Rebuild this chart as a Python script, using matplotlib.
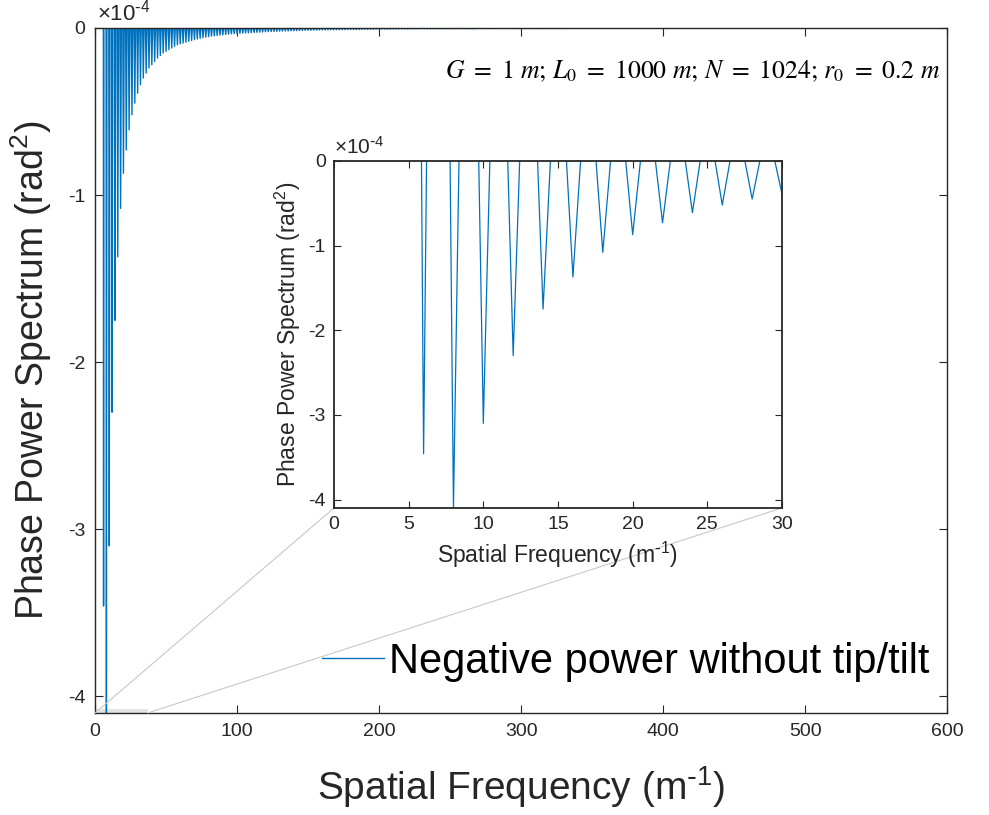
import numpy as np
import matplotlib
matplotlib.use("Agg")
import matplotlib.pyplot as plt
from matplotlib.patches import Rectangle, ConnectionPatch

plt.rcParams['font.family'] = ['Liberation Sans', 'DejaVu Sans']
plt.rcParams['axes.unicode_minus'] = False
plt.rcParams['mathtext.default'] = 'regular'

# ---------------- data (phase power spectrum, units of 1e-4 rad^2) ----------------
freq_max = 512
# values at even spatial frequencies f = 0, 2, 4, ..., 512
psd_even = ([0.0, 28.0, 24.0] +
            [-3.46, -4.10, -3.10, -2.30, -1.75, -1.37, -1.08, -0.87, -0.73, -0.61] +
            [-0.52, -0.45, -0.39, -0.34, -0.30, -0.27, -0.24, -0.22, -0.20, -0.18] +
            [-0.165, -0.150, -0.140, -0.130, -0.120, -0.110, -0.100, -0.095, -0.090, -0.085] +
            [-0.080, -0.075, -0.070, -0.066, -0.062, -0.058, -0.055, -0.052, -0.049, -0.047] +
            [-0.045, -0.043, -0.041, -0.039, -0.037, -0.035, -0.034, -0.033, -0.032, -0.031] +
            [-0.030, -0.029, -0.028, -0.027, -0.026, -0.025, -0.024, -0.023, -0.022, -0.021] +
            [-0.021, -0.020, -0.019, -0.019, -0.018, -0.018, -0.017, -0.016, -0.016, -0.015] +
            [-0.015, -0.014, -0.014, -0.014, -0.013, -0.013, -0.012, -0.012, -0.012, -0.011] +
            [-0.011, -0.011, -0.010, -0.010, -0.010, -0.010, -0.009, -0.009, -0.009, -0.009] +
            [-0.009, -0.008, -0.008, -0.008, -0.008, -0.008, -0.007, -0.007, -0.007, -0.007] +
            [-0.007, -0.007, -0.007, -0.006, -0.006, -0.006, -0.006, -0.006, -0.006, -0.006] +
            [-0.006, -0.005, -0.005, -0.005, -0.005, -0.005, -0.005, -0.005, -0.005, -0.005] +
            [-0.005] * 10 +
            [-0.005, -0.005] + [-0.004] * 8 +
            [-0.004] * 10 +
            [-0.004] * 10 +
            [-0.004, -0.004] + [-0.003] * 8 +
            [-0.003] * 10 +
            [-0.003] * 10 +
            [-0.003] * 10 +
            [-0.002] * 10 +
            [-0.002] * 10 +
            [-0.002] * 10 +
            [-0.002] * 10 +
            [-0.002] * 10 +
            [-0.002, -0.002, -0.002, -0.001])
# values at odd spatial frequencies f = 1, 3, 5, ..., 511
psd_odd = ([30.0, 26.0, 21.0] +
           [14.0, 7.0, 4.0, 3.0] +
           [1.8, 1.3, 1.0, 0.8, 0.67, 0.56, 0.48, 0.42] +
           [0.36, 0.32, 0.285, 0.255, 0.23, 0.21, 0.19, 0.172, 0.157, 0.145] +
           [0.135, 0.125, 0.115, 0.105, 0.097, 0.092, 0.087, 0.082, 0.077, 0.072] +
           [0.068, 0.064, 0.060, 0.056, 0.053, 0.050, 0.048, 0.046, 0.044, 0.042] +
           [0.040, 0.038, 0.036, 0.034, 0.033, 0.032, 0.031, 0.030, 0.029, 0.028] +
           [0.027, 0.026, 0.025, 0.024, 0.023, 0.022, 0.021, 0.021, 0.020, 0.019] +
           [0.019, 0.018, 0.018, 0.017, 0.016, 0.016, 0.015, 0.015, 0.014, 0.014] +
           [0.014, 0.013, 0.013, 0.012, 0.012, 0.012, 0.011, 0.011, 0.011, 0.010] +
           [0.010, 0.010, 0.010, 0.009, 0.009, 0.009, 0.009, 0.009, 0.008, 0.008] +
           [0.008, 0.008, 0.008, 0.007, 0.007, 0.007, 0.007, 0.007, 0.007, 0.007] +
           [0.006] * 10 +
           [0.005] * 10 +
           [0.005] * 10 +
           [0.004] * 10 +
           [0.004] * 10 +
           [0.004] * 10 +
           [0.003] * 10 +
           [0.003] * 10 +
           [0.003] * 10 +
           [0.003, 0.003] + [0.002] * 8 +
           [0.002] * 10 +
           [0.002] * 10 +
           [0.002] * 10 +
           [0.002] * 10 +
           [0.002] * 10 +
           [0.001])

freq = np.arange(0, freq_max + 1)
psd = np.empty(freq.size)
psd[0::2] = psd_even
psd[1::2] = psd_odd

series_label = 'Negative power without tip/tilt'
param_text = (r'$\mathit{G}\ =\ 1\ \mathit{m}$; $\mathit{L}_0\ =\ 1000\ \mathit{m}$; '
              r'$\mathit{N}\ =\ 1024$; $\mathit{r}_0\ =\ 0.2\ \mathit{m}$')
main_xticks = [0, 100, 200, 300, 400, 500, 600]
main_yticks = [0, -1, -2, -3, -4]
inset_xticks = [0, 5, 10, 15, 20, 25, 30]
inset_yticks = [0, -1, -2, -3, -4]
zoom_xmax = 37

# ---------------- styling ----------------
line_color = '#0072BD'
axis_color = '#262626'
exp_text = r'$\times10^{\text{-}4}$'

fig = plt.figure(figsize=(9.89, 8.15), dpi=100)
ax = fig.add_axes([0.0961, 0.1252, 0.8615, 0.8405])
ax.set_zorder(0)

ax.plot(freq, psd, color=line_color, lw=1.0, label=series_label, zorder=2)
ax.set_xlim(0, 600)
ax.set_ylim(-4.1, 0)
ax.set_xticks(main_xticks)
ax.set_yticks(main_yticks)
ax.set_yticklabels([str(v) for v in main_yticks])
ax.tick_params(direction='in', length=6, width=0.8, colors=axis_color,
               labelsize=14, top=True, right=True, pad=7)
for s in ax.spines.values():
    s.set_color(axis_color)
    s.set_linewidth(1.0)
ax.set_xlabel(r'Spatial Frequency (m$^{\text{-}1}$)', fontsize=28, color=axis_color, labelpad=18)
ax.set_ylabel(r'Phase Power Spectrum (rad$^{2}$)', fontsize=27, color=axis_color, labelpad=10)
ax.text(0.002, 1.003, exp_text, transform=ax.transAxes, fontsize=16,
        color=axis_color, ha='left', va='bottom')
ax.text(0.992, 0.936, param_text, transform=ax.transAxes, fontsize=18.5,
        family='STIXGeneral', math_fontfamily='stix', ha='right', va='center', color='black')

leg = ax.legend(loc='center left', bbox_to_anchor=(0.266, 0.0745), frameon=False,
                fontsize=30, handlelength=1.5, handletextpad=0.12,
                borderpad=0, borderaxespad=0)

# zoom marker box on the main axes
ax.add_patch(Rectangle((0, -4.1), zoom_xmax, 0.025, facecolor='#e3e3e3',
                       edgecolor='none', zorder=1))

# ---------------- inset ----------------
axin = fig.add_axes([0.3377, 0.3767, 0.4530, 0.4258])
axin.set_zorder(3)
axin.plot(freq, psd, color=line_color, lw=0.9)
axin.set_xlim(0, 30)
axin.set_ylim(-4.1, 0)
axin.set_xticks(inset_xticks)
axin.set_yticks(inset_yticks)
axin.set_yticklabels([str(v) for v in inset_yticks])
axin.tick_params(direction='in', length=5, width=0.8, colors=axis_color,
                 labelsize=14, top=True, right=True, pad=6)
for s in axin.spines.values():
    s.set_color(axis_color)
    s.set_linewidth(1.3)
axin.set_xlabel(r'Spatial Frequency (m$^{\text{-}1}$)', fontsize=16.5, color=axis_color, labelpad=5)
axin.set_ylabel(r'Phase Power Spectrum (rad$^{2}$)', fontsize=16.5, color=axis_color, labelpad=4)
axin.text(0.0, 1.008, exp_text, transform=axin.transAxes, fontsize=15,
          color=axis_color, ha='left', va='bottom')

# connector lines from zoom box to inset
for (xa, xb) in [(0, 0), (zoom_xmax, 30)]:
    con = ConnectionPatch(xyA=(xa, -4.1), coordsA=ax.transData,
                          xyB=(xb, -4.1), coordsB=axin.transData,
                          color='#c8c8c8', lw=0.8, zorder=1)
    fig.add_artist(con)

fig.savefig('out.png', dpi=100)
